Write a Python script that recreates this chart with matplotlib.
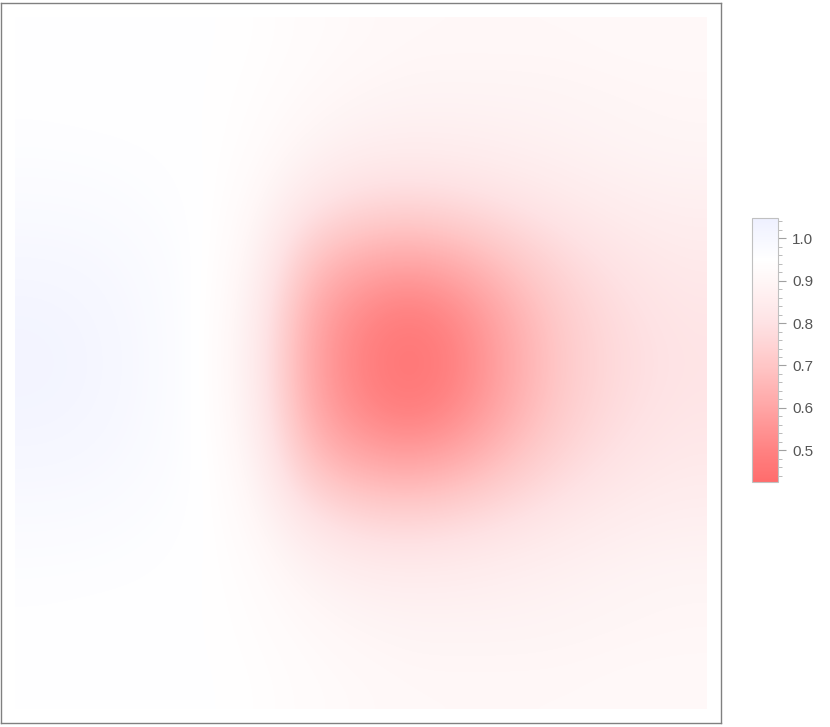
import numpy as np
import matplotlib
matplotlib.use("Agg")
import matplotlib.pyplot as plt
from matplotlib.colors import LinearSegmentedColormap, Normalize
from matplotlib.ticker import MultipleLocator

plt.rcParams['font.family'] = ['Liberation Sans', 'DejaVu Sans']

# valores (malla gruesa 13x13, mitad superior + fila central)
x_nodos = np.linspace(0, 1, 13)
y_nodos = np.linspace(0, 1, 13)
filas_sup = [
    [0.95, 0.95, 0.95, 0.95, 0.945, 0.93, 0.92, 0.91, 0.91, 0.91, 0.91, 0.915, 0.915],
    [0.952, 0.95, 0.95, 0.95, 0.94, 0.92, 0.90, 0.89, 0.89, 0.89, 0.895, 0.90, 0.905],
    [0.96, 0.958, 0.955, 0.95, 0.935, 0.89, 0.86, 0.855, 0.86, 0.87, 0.88, 0.89, 0.895],
    [0.975, 0.972, 0.963, 0.953, 0.92, 0.82, 0.77, 0.76, 0.78, 0.81, 0.84, 0.86, 0.87],
    [0.995, 0.99, 0.975, 0.955, 0.90, 0.70, 0.63, 0.61, 0.65, 0.72, 0.78, 0.82, 0.84],
    [1.012, 1.003, 0.982, 0.955, 0.88, 0.62, 0.52, 0.48, 0.54, 0.65, 0.74, 0.79, 0.82],
]
fila_centro = [1.02, 1.008, 0.985, 0.955, 0.87, 0.60, 0.49, 0.44, 0.51, 0.63, 0.73, 0.78, 0.81]

# campo completo (simetrico respecto a la fila central)
Z = np.array(filas_sup + [fila_centro] + filas_sup[::-1])

# escala de color (rojo -> blanco -> azul claro)
niveles = [0.425, 0.5, 0.6, 0.7, 0.8, 0.9, 0.95, 1.048]
colores = [(255, 108, 108), (255, 130, 130), (255, 165, 165), (255, 198, 198),
           (254, 226, 228), (255, 246, 246), (255, 255, 255), (238, 240, 255)]

vmin, vmax = niveles[0], niveles[-1]
pos = [(v - vmin) / (vmax - vmin) for v in niveles]
cmap = LinearSegmentedColormap.from_list(
    "rojo_blanco", list(zip(pos, [tuple(c / 255 for c in col) for col in colores])))
norm = Normalize(vmin=vmin, vmax=vmax)

fig = plt.figure(figsize=(8.30, 7.27), dpi=100)

# marco exterior
ax = fig.add_axes([1 / 830, 4 / 727, 720 / 830, 720 / 727])
pad = 0.0205
ax.imshow(Z, cmap=cmap, norm=norm, interpolation="bicubic",
          extent=(0, 1, 1, 0), aspect="auto")
ax.set_xlim(-pad, 1 + pad)
ax.set_ylim(1 + pad, -pad)
ax.set_xticks([])
ax.set_yticks([])
for s in ax.spines.values():
    s.set_color("#808080")
    s.set_linewidth(1.0)

# barra de color
cax = fig.add_axes([752 / 830, (727 - 482) / 727, 26 / 830, 264 / 727])
cb = fig.colorbar(plt.cm.ScalarMappable(norm=norm, cmap=cmap), cax=cax)
cb.set_ticks([0.5, 0.6, 0.7, 0.8, 0.9, 1.0])
cb.ax.yaxis.set_minor_locator(MultipleLocator(0.02))
cb.ax.tick_params(which="major", length=6, width=0.8, color="#a0a0a0",
                  labelsize=11, labelcolor="#555555", pad=4)
cb.ax.tick_params(which="minor", length=3, width=0.6, color="#b0b0b0")
cb.outline.set_edgecolor("#c0c0c0")
cb.outline.set_linewidth(0.8)
cb.ax.set_yticklabels(["0.5", "0.6", "0.7", "0.8", "0.9", "1.0"])

fig.savefig("out.png", dpi=100, facecolor="white")
